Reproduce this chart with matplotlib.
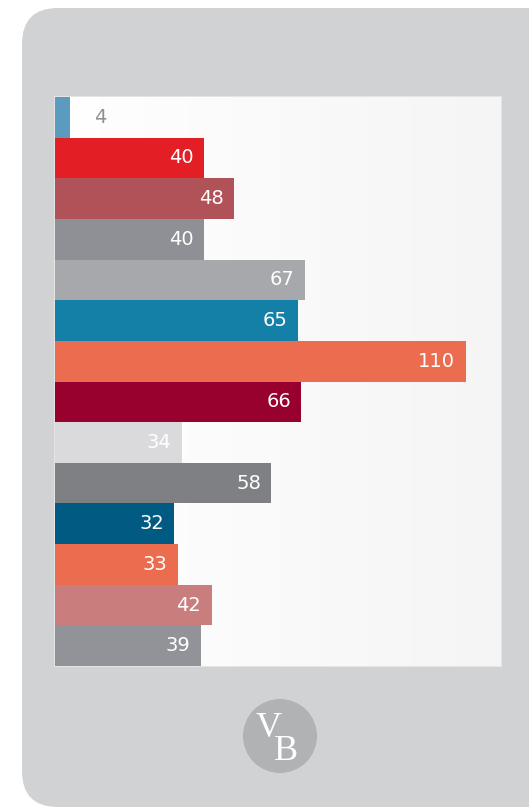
import matplotlib.pyplot as plt
from matplotlib.patches import FancyBboxPatch, Circle, Rectangle
from matplotlib.colors import LinearSegmentedColormap
import numpy as np

# dane
wartosci = [4, 40, 48, 40, 67, 65, 110, 66, 34, 58, 32, 33, 42, 39]
kolory = ["#5b9bbf", "#e31e24", "#b05257", "#8f9095", "#a7a8ab", "#1580a7",
          "#ec6c50", "#98002e", "#dadadc", "#7f8084", "#005a82", "#ec6c50",
          "#c97d7c", "#929398"]
kolor_etykiety = ["#8f9095"] + ["white"] * 13

W, H = 529, 809
fig = plt.figure(figsize=(W / 100, H / 100), dpi=100)
fig.patch.set_facecolor("white")

# tlo - telefon
tlo = fig.add_axes([0, 0, 1, 1])
tlo.set_xlim(0, W)
tlo.set_ylim(H, 0)
tlo.axis("off")
tlo.add_patch(FancyBboxPatch((22 + 36, 8 + 36), 560 - 72, 799 - 72,
                             boxstyle="round,pad=36", fc="#d1d2d4", ec="none"))
tlo.add_patch(Rectangle((54, 96), 448, 571, fc="#e4e4e5", ec="none"))
tlo.add_patch(Circle((280, 736), 37, fc="#b1b2b4", ec="none"))
# logo VB (jeden tekst, B przesuniete w prawo i w dol)
tlo.text(256, 740, "V\n  B", fontsize=26, family="Liberation Serif",
         color="white", ha="left", va="center", multialignment="left",
         linespacing=0.58)

# wykres
ax = fig.add_axes([55 / W, (H - 666) / H, 446 / W, 569 / H])
grad = np.linspace(0, 1, 256).reshape(1, -1)
ax.imshow(grad, extent=[0, 119.5, len(wartosci) - 0.5, -0.5], aspect="auto",
          cmap=LinearSegmentedColormap.from_list("g", ["#ffffff", "#f5f5f5"]),
          zorder=0)
y = np.arange(len(wartosci))
ax.barh(y, wartosci, height=1.0, color=kolory, zorder=2)
ax.set_xlim(0, 119.5)
ax.set_ylim(len(wartosci) - 0.5, -0.5)
ax.axis("off")

for i, v in enumerate(wartosci):
    if v < 10:
        ax.text(v + 6.5, i, str(v), color=kolor_etykiety[i], fontsize=14,
                ha="left", va="center", zorder=3)
    else:
        ax.text(v - 2.8, i, str(v), color=kolor_etykiety[i], fontsize=14,
                ha="right", va="center", zorder=3)

fig.savefig("out.png", dpi=100)
